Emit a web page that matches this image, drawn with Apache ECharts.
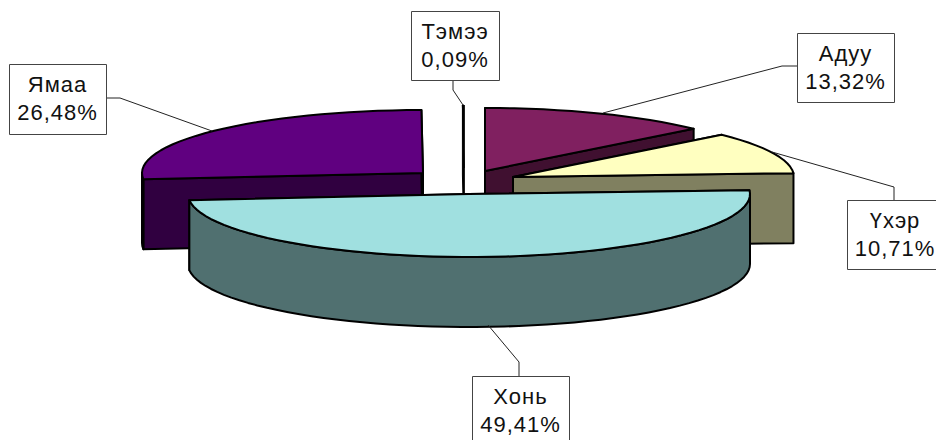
<!DOCTYPE html>
<html>
<head>
<meta charset="utf-8">
<style>
  html, body { margin: 0; padding: 0; background: #fff; }
  /* the svg renderer lets the labels inherit the wide letter spacing of the original */
  #chart { width: 936px; height: 440px; letter-spacing: 1px; }
</style>
<script src="https://cdn.jsdelivr.net/npm/echarts@6/dist/echarts.min.js"></script>
</head>
<body>
<div id="chart"></div>
<script>
// clockwise from 12 o'clock
var categories = ["Адуу", "Үхэр", "Хонь", "Ямаа", "Тэмээ"];
var shares = [13.32, 10.71, 49.41, 26.48, 0.09];

// pie shape: ellipse radii and thickness
var rx = 281;
var ry = 63;
var depth = 70;

// exploded centre of every slice
var centerX = [485, 513, 469, 423, 464];
var centerY = [171, 177, 194, 173, 168];
var drawOrder = [2, 4, 5, 3, 1];

var topColors = ["#802060", "#FFFFC0", "#A0E0E0", "#600080", "#000000"];
var sideColors = ["#401030", "#808060", "#507070", "#300040", "#000000"];
var outlineWidths = [2, 2, 2, 2, 1];

// label boxes [x, y, w, h] and leader lines
var boxes = [
  [797, 33, 97, 69],
  [847, 200, 96, 69],
  [472, 376, 97, 70],
  [9, 64, 97, 70],
  [411, 11, 88, 69],
];
var leaders = [
  [[797, 66], [782, 66], [603, 113]],
  [[894, 200], [894, 187], [772, 152]],
  [[519, 376], [519, 362], [488, 325]],
  [[104, 98], [120, 98], [212, 131]],
  [[453, 80], [453, 90], [463, 105]],
];

var total = shares.reduce(function (a, b) { return a + b; }, 0);

function point(i, deg, drop) {
  var r = (deg * Math.PI) / 180;
  return [
    centerX[i] + rx * Math.sin(r),
    centerY[i] - ry * Math.cos(r) + (drop || 0),
  ];
}

function arc(i, from, to, drop) {
  var pts = [];
  var n = Math.max(2, Math.ceil((to - from) / 3));
  for (var k = 0; k <= n; k++) {
    pts.push(point(i, from + ((to - from) * k) / n, drop));
  }
  return pts;
}

function poly(points, fill, z2, width) {
  return {
    type: "polygon",
    z2: z2,
    shape: { points: points },
    style: { fill: fill, stroke: "#000", lineWidth: width, lineJoin: "round" },
  };
}

function renderSlice(params, api) {
  var i = params.dataIndex;
  var before = 0;
  for (var k = 0; k < i; k++) before += shares[k];
  var start = (before / total) * 360;
  var end = ((before + api.value(1)) / total) * 360;
  var base = drawOrder[i] * 10;
  var width = outlineWidths[i];
  var apex = [centerX[i], centerY[i]];
  var apexLow = [centerX[i], centerY[i] + depth];
  var children = [];

  // cut faces
  [start, end].forEach(function (deg) {
    children.push(
      poly([apex, point(i, deg), point(i, deg, depth), apexLow], sideColors[i], base, width)
    );
  });
  // outer rim, front half only
  var rimFrom = Math.max(start, 90);
  var rimTo = Math.min(end, 270);
  if (rimTo > rimFrom) {
    var rim = arc(i, rimFrom, rimTo, 0).concat(arc(i, rimFrom, rimTo, depth).reverse());
    children.push(poly(rim, sideColors[i], base + 1, width));
  }
  // top face
  children.push(poly([apex].concat(arc(i, start, end, 0)), topColors[i], base + 2, width));

  // leader line and label box
  children.push({
    type: "polyline",
    z2: 100,
    shape: { points: leaders[i] },
    style: { fill: null, stroke: "#222", lineWidth: 1 },
  });
  var b = boxes[i];
  children.push({
    type: "rect",
    z2: 101,
    shape: { x: b[0] + 0.5, y: b[1] + 0.5, width: b[2], height: b[3] },
    style: { fill: "#fff", stroke: "#444", lineWidth: 1 },
  });
  var pct = api.value(1).toFixed(2).replace(".", ",") + "%";
  var tx = i === 1 ? 895 : b[0] + b[2] / 2;
  [categories[i], pct].forEach(function (line, n) {
    children.push({
      type: "text",
      z2: 102,
      x: tx,
      y: b[1] + 20 + n * 28,
      style: {
        text: line,
        fill: "#111",
        font: "22px 'Liberation Sans', Arial, sans-serif",
        align: "center",
        verticalAlign: "middle",
      },
    });
  });

  return { type: "group", children: children };
}

var myChart = echarts.init(document.getElementById("chart"), null, { renderer: "svg" });
var option = {
  animation: false,
  backgroundColor: "#fff",
  series: [
    {
      type: "custom",
      coordinateSystem: "none",
      renderItem: renderSlice,
      data: categories.map(function (name, i) {
        return { name: name, value: [i, shares[i]] };
      }),
    },
  ],
};
myChart.setOption(option);
</script>
</body>
</html>
